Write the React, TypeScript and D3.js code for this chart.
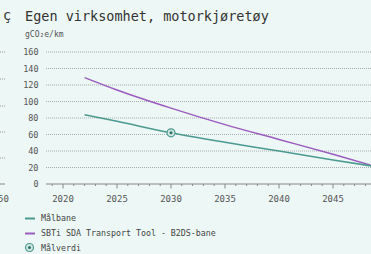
import React from "react";
import * as d3 from "d3";

const years = [2022, 2025, 2030, 2035, 2040, 2045, 2050];
const malbane = [84, 76, 62, 50.5, 40, 29, 19];
const sbti = [129, 114, 92, 72, 54, 36, 17];
const malverdiYear = 2030;
const malverdiValue = 62;
const yTicks = [0, 20, 40, 60, 80, 100, 120, 140, 160];
const xMajorTicks = [2020, 2025, 2030, 2035, 2040, 2045, 2050];
const xLabels = [2020, 2025, 2030, 2035, 2040, 2045];
const xMinorTicks = d3.range(2019, 2051);
const title = "Egen virksomhet, motorkjøretøy";
const unit = "gCO₂e/km";
const legendLabels = ["Målbane", "SBTi SDA Transport Tool - B2DS-bane", "Målverdi"];
const leftGrid = [52, 79, 106, 132, 158];

const W = 371;
const H = 254;
const BG = "#edf7f5";
const TEAL = "#4b9a8f";
const PURPLE = "#9b5bbf";
const MONO = "'DejaVu Sans Mono', 'Liberation Mono', monospace";

export default function App() {
  const x = d3.scaleLinear().domain([2020, 2045]).range([63, 333]);
  const y = d3.scaleLinear().domain([0, 160]).range([184, 52]);
  const line = d3
    .line<number>()
    .x((_, i) => x(years[i]))
    .y((d) => y(d))
    .curve(d3.curveMonotoneX);

  return (
    <svg
      width={W}
      height={H}
      style={{ position: "absolute", left: 0, top: 0, background: BG }}
      fontFamily={MONO}
    >
      <rect x={0} y={0} width={W} height={H} fill={BG} />
      {/* remnants of neighbouring chart */}
      <text x={3} y={20} fontSize={13.5} fill="#333">ç</text>
      {leftGrid.map((g) => (
        <line key={g} x1={0} x2={5} y1={g} y2={g} stroke="#999" strokeDasharray="1,1" />
      ))}
      <line x1={0} x2={5} y1={184} y2={184} stroke="#888" />
      <text x={-2} y={202} fontSize={9} fill="#555" textAnchor="middle">2050</text>

      <text x={25} y={20.5} fontSize={13.5} fill="#333">{title}</text>
      <text x={25} y={36.5} fontSize={8} fill="#555">{unit}</text>

      {yTicks.map((t) => (
        <g key={t}>
          {t > 0 && (
            <line x1={46} x2={W} y1={y(t)} y2={y(t)} stroke="#a8aeae" strokeDasharray="1,1" />
          )}
          <text x={38.5} y={y(t) + 3} fontSize={8.5} fill="#555" textAnchor="end">{t}</text>
        </g>
      ))}

      <line x1={46} x2={W} y1={184} y2={184} stroke="#888" />
      {xMinorTicks.map((t) => (
        <line key={t} x1={x(t)} x2={x(t)} y1={184} y2={xMajorTicks.includes(t) ? 188.5 : 186} stroke="#888" />
      ))}
      {xLabels.map((t) => (
        <text key={t} x={x(t)} y={202} fontSize={9} fill="#555" textAnchor="middle">{t}</text>
      ))}

      <path d={line(sbti) || ""} fill="none" stroke={PURPLE} strokeWidth={1.5} />
      <path d={line(malbane) || ""} fill="none" stroke={TEAL} strokeWidth={1.5} />
      <circle cx={x(malverdiYear)} cy={y(malverdiValue)} r={4} fill="#cfe6e2" stroke={TEAL} strokeWidth={1.2} />
      <circle cx={x(malverdiYear)} cy={y(malverdiValue)} r={1.5} fill="#2f6f67" />

      {/* legend */}
      <line x1={25} x2={35} y1={218.5} y2={218.5} stroke={TEAL} strokeWidth={2} />
      <text x={41} y={221} fontSize={8.3} fill="#444">{legendLabels[0]}</text>
      <line x1={25} x2={35} y1={233.5} y2={233.5} stroke={PURPLE} strokeWidth={2} />
      <text x={41} y={236} fontSize={8.3} fill="#444">{legendLabels[1]}</text>
      <circle cx={29.5} cy={247.5} r={4} fill="#cfe6e2" stroke={TEAL} strokeWidth={1.2} />
      <circle cx={29.5} cy={247.5} r={1.5} fill="#2f6f67" />
      <text x={41} y={250.5} fontSize={8.3} fill="#444">{legendLabels[2]}</text>
    </svg>
  );
}
